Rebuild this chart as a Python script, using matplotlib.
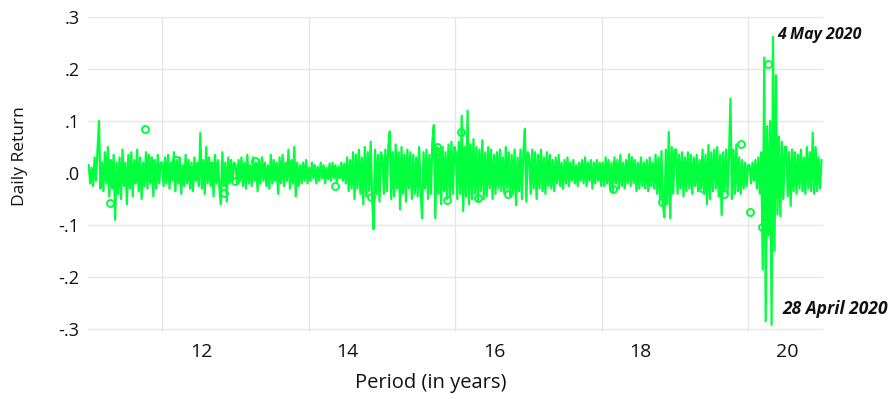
import numpy as np
import matplotlib
matplotlib.use("Agg")
import matplotlib.pyplot as plt
from matplotlib.transforms import ScaledTranslation

ret_2011 = [0.015,-0.02,0.01,-0.025,0.03,-0.015,0.045,0.10,-0.03,0.02,-0.035,0.04,-0.02,0.05,-0.045,0.025,-0.03,0.035,-0.09,0.02,
            -0.04,0.03,-0.05,0.045,-0.025,0.02,-0.06,0.035,-0.03,0.04,-0.045,0.025,-0.02,0.045,-0.035,0.03,-0.05,0.02,-0.025,0.04,
            -0.03,0.035,-0.02,0.03,-0.045,0.025,-0.03,0.035,-0.02,0.02]
ret_2012 = [0.02,-0.025,0.03,-0.02,0.035,-0.03,0.02,-0.015,0.04,-0.035,0.025,-0.02,0.03,-0.04,0.015,-0.025,0.035,-0.02,0.025,-0.03,
            0.02,-0.035,0.03,-0.015,0.02,-0.025,0.077,-0.03,0.025,-0.04,0.05,-0.02,0.03,-0.025,0.02,-0.045,0.035,-0.02,0.025,-0.03,
            -0.06,0.04,-0.025,0.02,-0.055,0.03,-0.02,0.025,-0.015,0.02]
ret_2013 = [0.015,-0.02,0.025,-0.015,0.03,-0.025,0.02,-0.03,0.035,-0.02,0.015,-0.025,0.03,-0.015,0.02,-0.035,0.025,-0.02,0.03,-0.015,
            0.02,-0.025,0.015,-0.03,0.035,-0.02,0.025,-0.015,0.02,-0.04,0.03,-0.02,0.035,-0.025,0.02,-0.015,0.045,-0.03,0.025,-0.02,
            0.05,-0.045,0.02,-0.025,0.015,-0.02,0.02,-0.015,0.025,-0.02]
ret_2014 = [0.01,-0.015,0.02,-0.01,0.015,-0.02,0.012,-0.015,0.02,-0.01,0.015,-0.02,0.01,-0.012,0.018,-0.015,0.02,-0.01,0.015,-0.018,
            0.012,-0.01,0.02,-0.015,0.018,-0.02,0.03,-0.035,0.025,-0.03,0.04,-0.05,0.035,-0.03,0.045,-0.04,0.03,-0.06,0.05,-0.045,
            0.04,-0.035,0.06,-0.05,-0.108,0.045,-0.04,0.035,-0.055,0.04]
ret_2015 = [0.03,-0.04,0.045,-0.035,0.05,0.08,-0.05,0.04,-0.045,0.055,-0.03,0.04,-0.07,0.05,-0.04,0.035,-0.055,0.045,-0.03,0.04,
            -0.05,0.035,-0.04,0.03,-0.045,0.05,-0.035,-0.087,0.04,-0.03,0.045,-0.05,0.035,-0.04,0.06,0.092,-0.087,0.05,-0.04,0.045,
            -0.06,0.05,-0.035,0.04,-0.05,0.055,-0.045,0.06,-0.04,0.05]
ret_2016 = [0.04,-0.05,0.06,-0.04,0.11,-0.073,0.05,-0.045,0.12,-0.06,0.055,-0.05,0.065,-0.04,0.05,-0.055,0.045,-0.035,0.063,-0.05,
            0.04,-0.045,0.05,-0.03,0.045,-0.05,0.035,-0.04,0.04,-0.03,0.045,-0.035,0.03,-0.04,0.05,-0.03,0.04,-0.045,0.035,-0.04,
            0.045,-0.062,0.03,-0.035,0.045,-0.05,0.04,0.085,-0.055,0.04]
ret_2017 = [0.03,-0.04,0.045,-0.03,0.04,-0.05,0.035,-0.03,0.045,-0.035,0.03,-0.04,0.04,-0.025,0.035,-0.03,0.025,-0.035,0.03,-0.02,
            0.035,-0.025,0.02,-0.03,0.025,-0.02,0.03,-0.025,0.02,-0.015,0.025,-0.02,0.015,-0.025,0.02,-0.015,0.025,-0.02,0.03,-0.025,
            0.02,-0.015,0.025,-0.03,0.02,-0.02,0.025,-0.015,0.02,-0.025]
ret_2018 = [0.02,-0.025,0.03,-0.02,0.025,-0.03,0.02,-0.035,0.03,-0.02,0.025,-0.03,0.035,-0.025,0.02,-0.03,0.025,-0.02,0.036,-0.025,
            0.03,-0.02,0.025,-0.035,0.02,-0.03,0.03,-0.025,0.02,-0.03,0.025,-0.035,0.03,-0.025,0.02,-0.03,0.035,-0.04,0.03,-0.05,
            0.042,-0.06,-0.085,0.045,-0.06,0.079,-0.087,0.05,-0.04,0.045]
ret_2019 = [0.045,-0.04,0.035,-0.03,0.04,-0.045,0.03,-0.035,0.04,-0.03,0.035,-0.04,0.03,-0.025,0.035,-0.035,0.025,-0.03,0.045,-0.04,
            0.035,-0.06,0.054,-0.05,0.04,-0.035,0.045,-0.03,0.05,-0.045,0.035,-0.081,0.04,-0.035,0.045,-0.04,0.03,0.143,-0.05,0.045,
            -0.04,0.055,-0.035,0.03,-0.04,0.025,-0.03,0.02,-0.025,0.015]
ret_2020 = [0.015,-0.02,0.02,-0.015,0.025,-0.03,0.03,-0.04,0.04,-0.185,0.222,-0.285,0.09,-0.12,0.10,-0.292,0.262,-0.15,0.188,-0.08,
            0.07,-0.083,0.06,-0.05,0.05,0.05,-0.045,0.04,-0.063,0.045,-0.035,0.04,-0.04,0.035,-0.03,0.045,-0.035,0.03,-0.04,0.05,
            -0.03,0.04,-0.035,0.078,-0.04,0.05,-0.035,0.03,-0.03,0.025]

# Flagged observations (hollow circles): period in years, return
circle_t = [11.26, 11.29, 11.77, 11.82, 12.19, 12.68, 12.85, 13.00, 13.27, 14.32, 14.36, 14.85, 15.75, 15.75,
            15.89, 16.08, 16.31, 16.72, 18.15, 18.83, 19.37, 19.67, 19.90, 20.03, 20.19, 20.27]
circle_r = [0.02, -0.057, 0.085, 0.023, 0.025, 0.013, -0.038, -0.015, 0.023, 0.008, -0.025, -0.046, 0.05, 0.042,
            -0.052, 0.079, -0.048, -0.04, -0.031, -0.056, -0.029, -0.04, 0.056, -0.075, -0.104, 0.21]

start_year, end_year = 11.0, 21.0
x_ticks = [12, 14, 16, 18, 20]
y_ticks = [0.3, 0.2, 0.1, 0.0, -0.1, -0.2, -0.3]
y_tick_labels = [".3", ".2", ".1", ".0", "-.1", "-.2", "-.3"]

returns = np.array(ret_2011 + ret_2012 + ret_2013 + ret_2014 + ret_2015 +
                   ret_2016 + ret_2017 + ret_2018 + ret_2019 + ret_2020)
t = np.linspace(start_year, end_year, len(returns))

plt.rcParams['font.family'] = ['Open Sans', 'DejaVu Sans']
GREEN = '#00FF3C'

fig = plt.figure(figsize=(8.96, 3.99), dpi=100)
ax = fig.add_axes([0.0982, 0.1689, 0.8203, 0.7885])

ax.plot(t, returns, color=GREEN, lw=1.6, zorder=3)
ax.plot(circle_t, circle_r, linestyle='none', marker='o', markersize=5,
        markerfacecolor='none', markeredgecolor=GREEN, markeredgewidth=1.4, zorder=4)

ax.set_xlim(10.99, 21.02)
ax.set_ylim(-0.305, 0.30)
ax.set_xticks(x_ticks)
ax.set_xticklabels([str(v) for v in x_ticks])
ax.set_yticks(y_ticks)
ax.set_yticklabels(y_tick_labels)
ax.tick_params(axis='both', length=0, colors='#111111')
ax.tick_params(axis='x', pad=8, labelsize=14)
ax.tick_params(axis='y', pad=6, labelsize=13)
for lab in ax.get_xticklabels():
    lab.set_transform(lab.get_transform() + ScaledTranslation(0.39, 0, fig.dpi_scale_trans))

ax.grid(True, color='#e6e6e6', lw=1.0, zorder=0)
for s in ax.spines.values():
    s.set_visible(False)

fig.text(20/896, 1-156/399, "Daily Return", rotation=90, ha='center', va='center', fontsize=12.5, color='#111111')
fig.text(431/896, 1-383/399, "Period (in years)", ha='center', va='center', fontsize=14.5, color='#111111')

ax.text(20.40, 0.266, "4 May 2020", fontsize=11.5, fontweight='bold', fontstyle='italic',
        ha='left', va='center', color='#111111', clip_on=False)
ax.text(20.46, -0.262, "28 April 2020", fontsize=12.5, fontweight='bold', fontstyle='italic',
        ha='left', va='center', color='#111111', clip_on=False)

fig.savefig("out.png", dpi=100)
